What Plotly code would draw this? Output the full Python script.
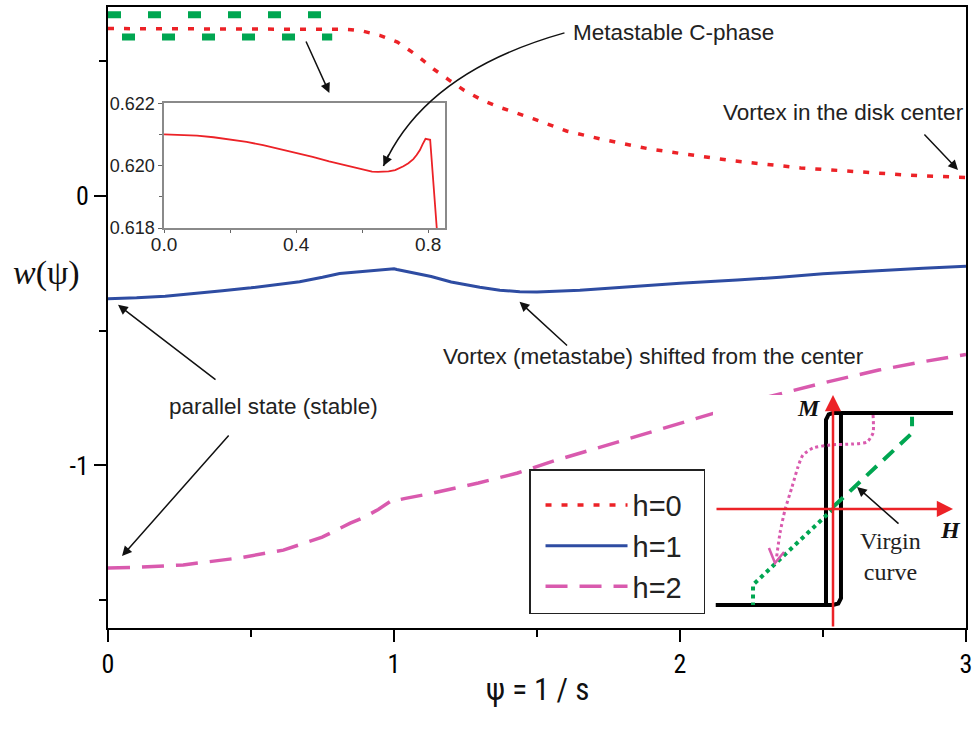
import plotly.graph_objects as go

# ---------------- data ----------------
psi_h0 = [0.0, 0.05, 0.1, 0.15, 0.2, 0.25, 0.3, 0.35, 0.4, 0.45, 0.5, 0.55, 0.575, 0.6, 0.63,
          0.648, 0.665, 0.68, 0.7, 0.725, 0.74, 0.755, 0.765, 0.775, 0.783, 0.792, 0.806, 0.826,
          0.85, 0.889, 0.95, 1.012, 1.078, 1.138, 1.194, 1.246, 1.313, 1.369, 1.488, 1.603,
          1.719, 1.894, 2.013, 2.188, 2.422, 2.597, 2.786, 3.0]
w_h0 = [0.62100, 0.62099, 0.62096, 0.62091, 0.62084, 0.62076, 0.62066, 0.62054, 0.62041,
        0.62028, 0.62014, 0.62002, 0.61995, 0.61988, 0.61981, 0.61980, 0.61980, 0.61982,
        0.61986, 0.61998, 0.62008, 0.62021, 0.62034, 0.62050, 0.62068, 0.62086, 0.62083,
        0.6180, 0.6165, 0.612, 0.596, 0.571, 0.523, 0.471, 0.429, 0.391, 0.353, 0.329, 0.286,
        0.241, 0.212, 0.174, 0.156, 0.130, 0.104, 0.093, 0.078, 0.068]

psi_h1 = [0.0, 0.1, 0.2, 0.32, 0.4, 0.5, 0.6, 0.67, 0.75, 0.81, 0.86, 0.92, 0.98, 1.0, 1.01,
          1.05, 1.13, 1.2, 1.3, 1.37, 1.44, 1.5, 1.65, 1.8, 2.0, 2.2, 2.35, 2.5, 2.7, 2.85, 3.0]
w_h1 = [-0.381, -0.378, -0.372, -0.361, -0.352, -0.341, -0.328, -0.318, -0.302, -0.288,
        -0.283, -0.277, -0.272, -0.270, -0.273, -0.281, -0.299, -0.319, -0.339, -0.350,
        -0.355, -0.356, -0.350, -0.339, -0.324, -0.312, -0.302, -0.289, -0.276, -0.268, -0.261]

psi_h2 = [0.0, 0.1, 0.263, 0.459, 0.613, 0.749, 0.847, 0.9, 0.945, 0.98, 1.0, 1.015, 1.04,
          1.138, 1.295, 1.432, 1.568, 1.722, 1.918, 2.111, 2.307, 2.499, 2.695, 2.85, 3.0]
w_h2 = [-1.380, -1.378, -1.369, -1.343, -1.314, -1.266, -1.214, -1.190, -1.163, -1.140,
        -1.124, -1.128, -1.122, -1.102, -1.065, -1.028, -0.980, -0.932, -0.869, -0.806,
        -0.746, -0.694, -0.646, -0.615, -0.588]

series_names = ["h=0", "h=1", "h=2"]

# decorative green dashed rows (top-left)
green_row1_x = [0.0, 0.746]
green_row1_y = [0.672, 0.672]
green_row2_x = [0.049, 0.784]
green_row2_y = [0.590, 0.590]

x_ticks = [0, 1, 2, 3]
x_ticklabels = ["0", "1", "2", "3"]
y_ticks = [-1, 0]
y_ticklabels = ["-1", "0"]

inset_x_ticks = [0.0, 0.4, 0.8]
inset_x_labels = ["0.0", "0.4", "0.8"]
inset_y_ticks = [0.618, 0.620, 0.622]
inset_y_labels = ["0.618", "0.620", "0.622"]

# schematic hysteresis (H, M) in reduced units
loop_up_H = [1.25, 0.0, -0.045, -0.073, -0.073, -1.22]
loop_up_M = [1.0, 1.0, 0.985, 0.93, -1.0, -1.0]
loop_dn_H = [-1.22, 0.0, 0.055, 0.083, 0.083]
loop_dn_M = [-1.0, -1.0, -0.985, -0.93, 1.0]
virgin_dash_H = [0.0, 0.823, 0.823]
virgin_dash_M = [0.02, 0.79, 0.96]
virgin_dot_H = [0.0, -0.833, -0.833]
virgin_dot_M = [0.0, -0.79, -1.0]
pink_path_H = [0.417, 0.417, 0.354, 0.208, -0.031, -0.208, -0.313, -0.365, -0.427, -0.5, -0.552, -0.59]
pink_path_M = [0.979, 0.792, 0.698, 0.677, 0.667, 0.635, 0.5625, 0.4375, 0.229, -0.01, -0.25, -0.52]
pink_head_H = [-0.667, -0.604, -0.51]
pink_head_M = [-0.406, -0.5625, -0.448]

# ---------------- styling ----------------
RED = "#EC2227"
BLUE = "#2E4CA2"
PINK = "#D95AAE"
GREEN = "#00A651"
NARROW = "Liberation Sans Narrow, Arial Narrow, Roboto Condensed, Liberation Sans, Arial"
SANS = "Liberation Sans, Arial, Helvetica"
SERIF = "Liberation Serif, Times New Roman, DejaVu Serif"
NBSP = "\u00a0"

fig = go.Figure()

# green decorative rows
fig.add_trace(go.Scatter(x=green_row1_x, y=green_row1_y, mode="lines", showlegend=False,
                         line=dict(color=GREEN, width=7, dash="13px,27px"), hoverinfo="skip"))
fig.add_trace(go.Scatter(x=green_row2_x, y=green_row2_y, mode="lines", showlegend=False,
                         line=dict(color=GREEN, width=7, dash="13px,27px"), hoverinfo="skip"))

# main curves
fig.add_trace(go.Scatter(x=psi_h0, y=w_h0, mode="lines", name=series_names[0] + NBSP * 2,
                         legendgroup="a", line=dict(color=RED, width=3.5, dash="6px,10px")))
fig.add_trace(go.Scatter(x=psi_h1, y=w_h1, mode="lines", name=series_names[1] + NBSP * 2,
                         legendgroup="b", line=dict(color=BLUE, width=3)))
fig.add_trace(go.Scatter(x=psi_h2, y=w_h2, mode="lines", name=series_names[2] + NBSP * 2,
                         legendgroup="c", line=dict(color=PINK, width=3.5, dash="22px,12px")))

# inset (zoom of h=0)
fig.add_trace(go.Scatter(x=psi_h0, y=w_h0, mode="lines", showlegend=False, xaxis="x2", yaxis="y2",
                         line=dict(color=RED, width=1.8)))

# hysteresis schematic
fig.add_trace(go.Scatter(x=loop_up_H, y=loop_up_M, mode="lines", showlegend=False, xaxis="x3", yaxis="y3",
                         line=dict(color="black", width=4)))
fig.add_trace(go.Scatter(x=loop_dn_H, y=loop_dn_M, mode="lines", showlegend=False, xaxis="x3", yaxis="y3",
                         line=dict(color="black", width=4)))
fig.add_trace(go.Scatter(x=virgin_dash_H, y=virgin_dash_M, mode="lines", showlegend=False, xaxis="x3", yaxis="y3",
                         line=dict(color=GREEN, width=4, dash="14px,9px")))
fig.add_trace(go.Scatter(x=virgin_dot_H, y=virgin_dot_M, mode="lines", showlegend=False, xaxis="x3", yaxis="y3",
                         line=dict(color=GREEN, width=4, dash="4px,4px")))
fig.add_trace(go.Scatter(x=pink_path_H, y=pink_path_M, mode="lines", showlegend=False, xaxis="x3", yaxis="y3",
                         line=dict(color=PINK, width=3, dash="3px,3px", shape="spline", smoothing=0.6)))
fig.add_trace(go.Scatter(x=pink_head_H, y=pink_head_M, mode="lines", showlegend=False, xaxis="x3", yaxis="y3",
                         line=dict(color=PINK, width=2.5)))

axis_common = dict(showline=True, linecolor="black", linewidth=2, mirror=True, showgrid=False,
                   zeroline=False, ticks="outside", ticklen=12, tickwidth=2, tickcolor="black",
                   automargin=False)

fig.update_layout(
    width=974, height=731,
    margin=dict(l=108, r=8, t=7, b=103, autoexpand=False),
    paper_bgcolor="white", plot_bgcolor="white",
    xaxis=dict(domain=[0, 1], range=[0, 3], tickmode="array", tickvals=x_ticks, ticktext=x_ticklabels,
               tickfont=dict(family=NARROW, size=26, color="black"),
               minor=dict(tickvals=[0.5, 1.5, 2.5], ticklen=7, tickwidth=2, tickcolor="black"),
               **axis_common),
    yaxis=dict(domain=[0, 1], range=[-1.603, 0.701], tickmode="array", tickvals=y_ticks, ticktext=y_ticklabels,
               tickfont=dict(family=NARROW, size=26, color="black"),
               minor=dict(tickvals=[0.5, -0.5, -1.5], ticklen=7, tickwidth=2, tickcolor="black"),
               **axis_common),
    xaxis2=dict(domain=[0.0653, 0.3928], anchor="y2", range=[0, 0.851], tickmode="array",
                tickvals=inset_x_ticks, ticktext=inset_x_labels, automargin=False,
                showline=True, linecolor="#8a8a8a", linewidth=1.5, mirror=True, showgrid=False, zeroline=False,
                ticks="outside", ticklen=3, tickwidth=1, tickcolor="#666", ticklabelstandoff=-5,
                minor=dict(tickvals=[0.2, 0.6], ticklen=3, tickcolor="#666"),
                tickfont=dict(family=SANS, size=19, color="#222")),
    yaxis2=dict(domain=[0.644, 0.845], anchor="x2", range=[0.618, 0.622], tickmode="array",
                tickvals=inset_y_ticks, ticktext=inset_y_labels, automargin=False,
                showline=True, linecolor="#8a8a8a", linewidth=1.5, mirror=True, showgrid=False, zeroline=False,
                ticks="outside", ticklen=4, tickwidth=1, tickcolor="#666",
                minor=dict(tickvals=[0.619, 0.621], ticklen=3, tickcolor="#666"),
                tickfont=dict(family=SANS, size=18, color="#222")),
    xaxis3=dict(domain=[0.7051, 1.0], anchor="y3", range=[-1.25, 1.385], visible=False, automargin=False),
    yaxis3=dict(domain=[0.0, 0.3752], anchor="x3", range=[-1.24, 1.1875], visible=False, automargin=False),
    legend=dict(x=0.4907, y=0.256, xanchor="left", yanchor="top", bgcolor="white",
                bordercolor="#222", borderwidth=1.5, font=dict(family=SANS, size=29, color="#222"),
                title=dict(text=NBSP, font=dict(size=7)),
                itemwidth=82, tracegroupgap=0, indentation=10),
    showlegend=True,
)

# inset background
fig.add_shape(type="rect", xref="x2", yref="y2", x0=0, x1=0.851, y0=0.618, y1=0.622,
              fillcolor="white", line=dict(width=0), layer="below")

ann_font = dict(family=SANS, size=22.5, color="#222")
arrow_black = dict(showarrow=True, arrowhead=2, arrowsize=1.3, arrowwidth=1.5, arrowcolor="#111", text="")
annotations = [
    dict(x=1.978, y=0.605, xref="x", yref="y", text="Metastable C-phase", showarrow=False, font=ann_font),
    dict(x=2.573, y=0.308, xref="x", yref="y", text="Vortex in the disk center", showarrow=False, font=ann_font),
    dict(x=1.908, y=-0.597, xref="x", yref="y", text="Vortex (metastabe) shifted from the center",
         showarrow=False, font=ann_font),
    dict(x=0.578, y=-0.78, xref="x", yref="y", text="parallel state (stable)", showarrow=False, font=ann_font),
    # arrows
    dict(x=0.774, y=0.382, xref="x", yref="y", ax=-24, ay=-53, **arrow_black),
    dict(x=0.963, y=0.111, xref="x", yref="y", ax=6, ay=-13, **arrow_black),
    dict(x=2.972, y=0.0965, xref="x", yref="y", ax=-35, ay=-37, **arrow_black),
    dict(x=1.439, y=-0.393, xref="x", yref="y", ax=49, ay=45, **arrow_black),
    dict(x=0.035, y=-0.404, xref="x", yref="y", ax=99, ay=76, **arrow_black),
    dict(x=0.049, y=-1.336, xref="x", yref="y", ax=108, ay=-122, **arrow_black),
    # hysteresis axes
    dict(x=0.0, y=1.1875, xref="x3", yref="y3", ax=0.0, ay=-1.24, axref="x3", ayref="y3", text="",
         showarrow=True, arrowhead=2, arrowsize=1.3, arrowwidth=2.5, arrowcolor=RED),
    dict(x=1.25, y=0.0, xref="x3", yref="y3", ax=-1.229, ay=0.0, axref="x3", ayref="y3", text="",
         showarrow=True, arrowhead=2, arrowsize=1.3, arrowwidth=2.5, arrowcolor=RED),
    dict(x=-0.25, y=1.05, xref="x3", yref="y3", text="<b><i>M</i></b>", showarrow=False,
         font=dict(family=SERIF, size=24, color="#111")),
    dict(x=1.22, y=-0.219, xref="x3", yref="y3", text="<b><i>H</i></b>", showarrow=False,
         font=dict(family=SERIF, size=24, color="#111")),
    dict(x=0.594, y=-0.49, xref="x3", yref="y3", text="Virgin<br>curve", showarrow=False,
         font=dict(family=SERIF, size=24, color="#222")),
    dict(x=0.25, y=0.229, xref="x3", yref="y3", ax=43, ay=38, **arrow_black),
    # axis titles
    dict(x=-0.0711, y=0.5717, xref="paper", yref="paper", text="<i>w</i>(ψ)", showarrow=False,
         xanchor="center", yanchor="middle", font=dict(family=SERIF, size=34, color="#111")),
    dict(x=0.501, y=-0.0998, xref="paper", yref="paper", text="ψ = 1 / s", showarrow=False,
         xanchor="center", yanchor="middle", font=dict(family=NARROW, size=31, color="#111")),
]
fig.update_layout(annotations=annotations)

# curved arrow for "Metastable C-phase"
fig.add_shape(type="path", xref="x", yref="y",
              path="M 1.596,0.605 Q 1.110,0.460 0.963,0.111",
              line=dict(color="#111", width=1.5))

fig.write_html("out.html")
